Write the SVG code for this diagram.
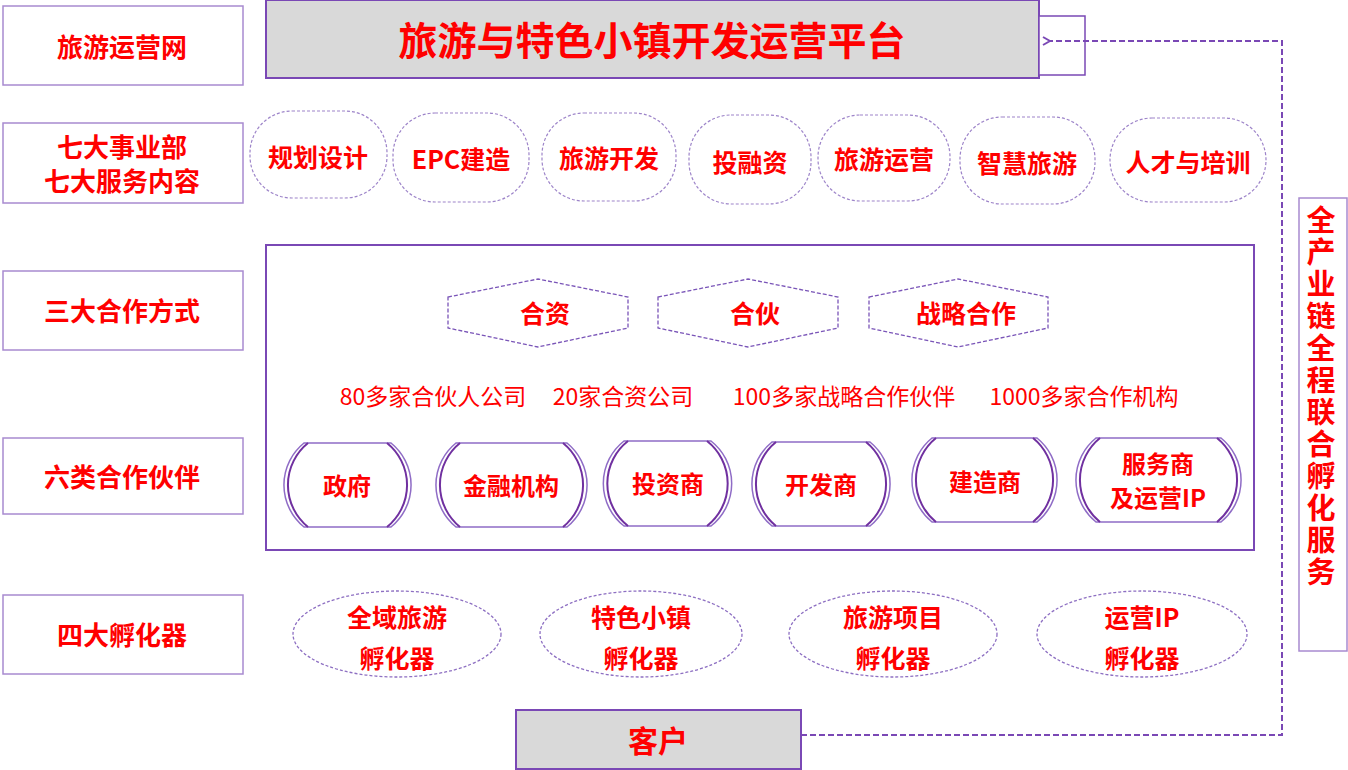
<svg xmlns="http://www.w3.org/2000/svg" width="1348" height="770" viewBox="0 0 1348 770">
<defs>
<style>
.t{font-family:"Noto Sans CJK SC","Liberation Sans",sans-serif;fill:#ff0000;font-weight:bold;text-anchor:middle;dominant-baseline:central}
.n{font-family:"Noto Sans CJK SC","Liberation Sans",sans-serif;fill:#ff0000;font-weight:normal;text-anchor:middle;font-size:23px}
.v{font-family:"Noto Sans CJK SC","Liberation Sans",sans-serif;fill:#ff0000;font-weight:bold;writing-mode:vertical-rl;letter-spacing:3px}
.lbox{fill:#ffffff;stroke:#a88ad0;stroke-width:1.5}
.gbox{fill:#d9d9d9;stroke:#7a48b5;stroke-width:2}
.pill{fill:#ffffff;stroke:#9d84c9;stroke-width:1.2;stroke-dasharray:3 2}
.hex{fill:#ffffff;stroke:#7a55b8;stroke-width:1.3;stroke-dasharray:4 2}
.ell{fill:#ffffff;stroke:#8d6fc2;stroke-width:1.3;stroke-dasharray:3 2}
.pout{fill:#ffffff;stroke:#8f6cc6;stroke-width:1.5}
.pin{fill:none;stroke:#7030a0;stroke-width:2}
.conn{fill:none;stroke:#7a48b5;stroke-width:2;stroke-dasharray:6 3}
</style>
<marker id="arr" markerWidth="10" markerHeight="10" refX="1" refY="4" orient="auto" markerUnits="userSpaceOnUse" viewBox="0 0 10 8">
<path d="M8,0 L1,4 L8,8" fill="none" stroke="#7a48b5" stroke-width="2"/>
</marker>
</defs>
<rect width="1348" height="770" fill="#ffffff"/>

<!-- left labels -->
<g id="label-net"><rect class="lbox" x="3" y="6" width="240" height="79"/><text class="t" x="122" y="45" font-size="26">旅游运营网</text></g>
<g id="label-dept"><rect class="lbox" x="3" y="123" width="240" height="80"/><text class="t" x="122" y="145" font-size="26">七大事业部</text><text class="t" x="122" y="179" font-size="26">七大服务内容</text></g>
<g id="label-coop"><rect class="lbox" x="3" y="271" width="240" height="79"/><text class="t" x="122" y="309" font-size="26">三大合作方式</text></g>
<g id="label-partner"><rect class="lbox" x="3" y="438" width="240" height="76"/><text class="t" x="122" y="475" font-size="26">六类合作伙伴</text></g>
<g id="label-incub"><rect class="lbox" x="3" y="595" width="240" height="79"/><text class="t" x="122" y="633" font-size="26">四大孵化器</text></g>

<!-- title -->
<g id="platform"><rect class="gbox" x="266" y="0" width="773" height="78"/><text class="t" x="652" y="38" font-size="39">旅游与特色小镇开发运营平台</text></g>
<g id="platform-tab"><rect x="1039" y="16" width="46" height="59" fill="#ffffff" stroke="#7a48b5" stroke-width="1.5"/></g>

<!-- services -->
<g id="svc-1"><rect class="pill" x="250" y="111" width="137" height="87" rx="42"/><text class="t" x="318" y="156" font-size="25">规划设计</text></g>
<g id="svc-2"><rect class="pill" x="393" y="113" width="136" height="89" rx="42"/><text class="t" x="461" y="158" font-size="25">EPC建造</text></g>
<g id="svc-3"><rect class="pill" x="542" y="113" width="134" height="88" rx="42"/><text class="t" x="609" y="157" font-size="25">旅游开发</text></g>
<g id="svc-4"><rect class="pill" x="689" y="115" width="122" height="89" rx="42"/><text class="t" x="750" y="161" font-size="25">投融资</text></g>
<g id="svc-5"><rect class="pill" x="818" y="115" width="132" height="86" rx="42"/><text class="t" x="884" y="158" font-size="25">旅游运营</text></g>
<g id="svc-6"><rect class="pill" x="960" y="117" width="135" height="87" rx="42"/><text class="t" x="1027" y="162" font-size="25">智慧旅游</text></g>
<g id="svc-7"><rect class="pill" x="1110" y="118" width="156" height="84" rx="42"/><text class="t" x="1188" y="161" font-size="25">人才与培训</text></g>

<!-- container -->
<g id="coop-container"><rect x="266" y="245" width="988" height="305" fill="none" stroke="#7a48b5" stroke-width="2"/></g>

<!-- hexagons -->
<g id="hex-jv"><polygon class="hex" points="448,297 538,279 628,297 628,328 538,347 448,328"/><text class="t" x="545" y="312" font-size="25">合资</text></g>
<g id="hex-partner"><polygon class="hex" points="658,297 748,279 838,297 838,328 748,347 658,328"/><text class="t" x="755" y="312" font-size="25">合伙</text></g>
<g id="hex-strategic"><polygon class="hex" points="869,297 958,279 1048,297 1048,328 958,347 869,328"/><text class="t" x="966" y="312" font-size="25">战略合作</text></g>

<!-- stats -->
<g id="stats">
<text class="n" x="433" y="405">80多家合伙人公司</text>
<text class="n" x="623" y="405">20家合资公司</text>
<text class="n" x="844" y="405">100多家战略合作伙伴</text>
<text class="n" x="1084" y="405">1000多家合作机构</text>
</g>

<!-- partners -->
<g id="p-gov"><path class="pout" d="M304,443 H391 A54 54 0 0 1 391,527 H304 A54 54 0 0 1 304,443 Z"/><path class="pin" d="M387,443 A54 54 0 0 1 387,527 M308,527 A54 54 0 0 1 308,443"/><text class="t" x="347" y="484" font-size="24">政府</text></g>
<g id="p-fin"><path class="pout" d="M456,443 H567 A54 54 0 0 1 567,527 H456 A54 54 0 0 1 456,443 Z"/><path class="pin" d="M563,443 A54 54 0 0 1 563,527 M460,527 A54 54 0 0 1 460,443"/><text class="t" x="511" y="484" font-size="24">金融机构</text></g>
<g id="p-inv"><path class="pout" d="M624,441 H711 A54 54 0 0 1 711,526 H624 A54 54 0 0 1 624,441 Z"/><path class="pin" d="M707,441 A54 54 0 0 1 707,526 M628,526 A54 54 0 0 1 628,441"/><text class="t" x="668" y="482" font-size="24">投资商</text></g>
<g id="p-dev"><path class="pout" d="M772,442 H870 A54 54 0 0 1 870,526 H772 A54 54 0 0 1 772,442 Z"/><path class="pin" d="M866,442 A54 54 0 0 1 866,526 M776,526 A54 54 0 0 1 776,442"/><text class="t" x="821" y="483" font-size="24">开发商</text></g>
<g id="p-build"><path class="pout" d="M932,438 H1037 A54 54 0 0 1 1037,522 H932 A54 54 0 0 1 932,438 Z"/><path class="pin" d="M1033,438 A54 54 0 0 1 1033,522 M936,522 A54 54 0 0 1 936,438"/><text class="t" x="985" y="480" font-size="24">建造商</text></g>
<g id="p-svc"><path class="pout" d="M1096,438 H1221 A54 54 0 0 1 1221,522 H1096 A54 54 0 0 1 1096,438 Z"/><path class="pin" d="M1217,438 A54 54 0 0 1 1217,522 M1100,522 A54 54 0 0 1 1100,438"/><text class="t" x="1158" y="462" font-size="24">服务商</text><text class="t" x="1158" y="496" font-size="24">及运营IP</text></g>

<!-- incubators -->
<g id="inc-1"><ellipse class="ell" cx="397" cy="634" rx="104" ry="43"/><text class="t" x="397" y="616" font-size="25">全域旅游</text><text class="t" x="397" y="657" font-size="25">孵化器</text></g>
<g id="inc-2"><ellipse class="ell" cx="641" cy="634" rx="101" ry="43"/><text class="t" x="641" y="616" font-size="25">特色小镇</text><text class="t" x="641" y="657" font-size="25">孵化器</text></g>
<g id="inc-3"><ellipse class="ell" cx="893" cy="634" rx="104" ry="43"/><text class="t" x="893" y="616" font-size="25">旅游项目</text><text class="t" x="893" y="657" font-size="25">孵化器</text></g>
<g id="inc-4"><ellipse class="ell" cx="1142" cy="634" rx="105" ry="43"/><text class="t" x="1142" y="616" font-size="25">运营IP</text><text class="t" x="1142" y="657" font-size="25">孵化器</text></g>

<!-- client -->
<g id="client"><rect class="gbox" x="516" y="710" width="285" height="59"/><text class="t" x="658" y="739" font-size="30">客户</text></g>

<!-- vertical service box -->
<g id="chain-service"><rect x="1299" y="198" width="48" height="453" fill="#ffffff" stroke="#a88ad0" stroke-width="1.5"/>
<text class="v" x="1321" y="205" font-size="29">全产业链全程联合孵化服务</text></g>

<!-- connectors -->
<g id="connectors">
<path class="conn" d="M801,735 H1282 V41 H1050" marker-end="url(#arr)"/>
</g>
</svg>
